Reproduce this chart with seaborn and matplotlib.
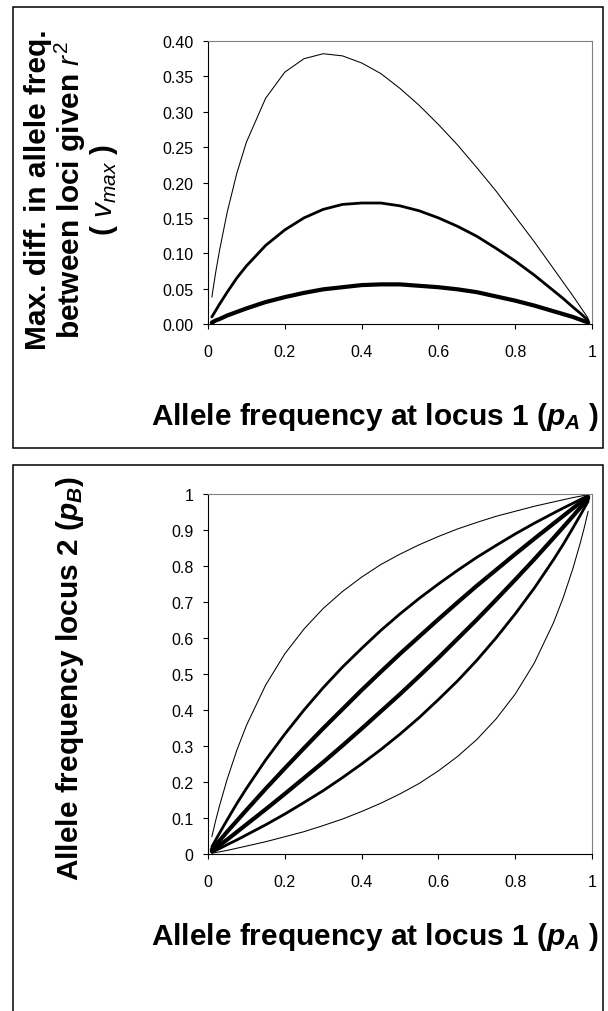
import matplotlib
matplotlib.use("Agg")
import matplotlib.pyplot as plt
import pandas as pd
import seaborn as sns
from matplotlib.patches import Rectangle

sns.set_style("white")
plt.rcParams['font.family'] = ['Liberation Sans', 'DejaVu Sans']
plt.rcParams['mathtext.fontset'] = 'custom'
plt.rcParams['mathtext.rm'] = 'Liberation Sans'
plt.rcParams['mathtext.it'] = 'Liberation Sans:italic'
plt.rcParams['mathtext.bf'] = 'Liberation Sans:italic:bold'
for key in ['text.color', 'axes.labelcolor', 'xtick.color', 'ytick.color']:
    plt.rcParams[key] = 'black'

# allele frequency at locus 1 (pA)
p_a = [0.01, 0.02, 0.03, 0.05, 0.075, 0.1, 0.15, 0.2, 0.25, 0.3, 0.35, 0.4, 0.45, 0.5,
       0.55, 0.6, 0.65, 0.7, 0.75, 0.8, 0.85, 0.9, 0.925, 0.95, 0.97, 0.98, 0.99]

# top panel: max. diff. in allele freq. (v_max) for three r2 values
vmax_r2_02 = [0.038, 0.073, 0.104, 0.158, 0.213, 0.257, 0.319, 0.356, 0.375, 0.382, 0.379, 0.369, 0.354, 0.333,
              0.309, 0.282, 0.253, 0.221, 0.188, 0.152, 0.116, 0.078, 0.059, 0.040, 0.024, 0.016, 0.008]
vmax_r2_05 = [0.010, 0.019, 0.028, 0.045, 0.065, 0.082, 0.111, 0.133, 0.150, 0.162, 0.169, 0.171, 0.171, 0.167,
              0.160, 0.150, 0.138, 0.124, 0.107, 0.089, 0.069, 0.047, 0.036, 0.024, 0.015, 0.010, 0.005]
vmax_r2_08 = [0.002, 0.005, 0.007, 0.012, 0.017, 0.022, 0.031, 0.038, 0.044, 0.049, 0.052, 0.055, 0.056, 0.056,
              0.054, 0.052, 0.049, 0.045, 0.039, 0.033, 0.026, 0.018, 0.014, 0.010, 0.006, 0.004, 0.002]

# bottom panel: allele frequency at locus 2 (pB), upper and lower bounds
pb_up_02 = [0.048, 0.093, 0.134, 0.208, 0.288, 0.357, 0.469, 0.556, 0.625, 0.682, 0.729, 0.769, 0.804, 0.833,
            0.859, 0.882, 0.903, 0.921, 0.938, 0.952, 0.966, 0.978, 0.984, 0.990, 0.994, 0.996, 0.998]
pb_lo_02 = [0.002, 0.004, 0.006, 0.010, 0.016, 0.022, 0.034, 0.048, 0.062, 0.079, 0.097, 0.118, 0.141, 0.167,
            0.196, 0.231, 0.271, 0.318, 0.375, 0.444, 0.531, 0.643, 0.712, 0.792, 0.866, 0.907, 0.952]
pb_up_05 = [0.020, 0.039, 0.058, 0.095, 0.140, 0.182, 0.261, 0.333, 0.400, 0.462, 0.519, 0.571, 0.621, 0.667,
            0.710, 0.750, 0.788, 0.824, 0.857, 0.889, 0.919, 0.947, 0.961, 0.974, 0.985, 0.990, 0.995]
pb_lo_05 = [0.005, 0.010, 0.015, 0.026, 0.039, 0.053, 0.081, 0.111, 0.143, 0.176, 0.212, 0.250, 0.290, 0.333,
            0.379, 0.429, 0.481, 0.538, 0.600, 0.667, 0.739, 0.818, 0.860, 0.905, 0.942, 0.961, 0.980]
pb_up_08 = [0.012, 0.025, 0.037, 0.062, 0.092, 0.122, 0.181, 0.238, 0.294, 0.349, 0.402, 0.455, 0.506, 0.556,
            0.604, 0.652, 0.699, 0.745, 0.789, 0.833, 0.876, 0.918, 0.939, 0.960, 0.976, 0.984, 0.992]
pb_lo_08 = [0.008, 0.016, 0.024, 0.040, 0.061, 0.082, 0.124, 0.167, 0.211, 0.255, 0.301, 0.348, 0.396, 0.444,
            0.494, 0.545, 0.598, 0.651, 0.706, 0.762, 0.819, 0.878, 0.908, 0.938, 0.963, 0.975, 0.988]

x_ticks = [0, 0.2, 0.4, 0.6, 0.8, 1]
x_ticklabels = ['0', '0.2', '0.4', '0.6', '0.8', '1']
top_yticks = [0, 0.05, 0.1, 0.15, 0.2, 0.25, 0.3, 0.35, 0.4]
top_yticklabels = ['0.00', '0.05', '0.10', '0.15', '0.20', '0.25', '0.30', '0.35', '0.40']
bot_yticks = [0, 0.1, 0.2, 0.3, 0.4, 0.5, 0.6, 0.7, 0.8, 0.9, 1]
bot_yticklabels = ['0', '0.1', '0.2', '0.3', '0.4', '0.5', '0.6', '0.7', '0.8', '0.9', '1']

W, H = 608, 1012
fig = plt.figure(figsize=(W / 100, H / 100), dpi=100)

def px_axes(left, top, right, bottom):
    return fig.add_axes([left / W, 1 - bottom / H, (right - left) / W, (bottom - top) / H])

def style_axes(ax):
    for side in ['left', 'bottom']:
        ax.spines[side].set_color('black')
        ax.spines[side].set_linewidth(0.8)
    for side in ['top', 'right']:
        ax.spines[side].set_visible(True)
        ax.spines[side].set_color('#808080')
        ax.spines[side].set_linewidth(0.8)
    ax.tick_params(axis='both', direction='out', length=3.6, width=0.8, color='black',
                   labelcolor='black', labelsize=11.5, left=True, bottom=True)
    ax.tick_params(axis='x', pad=10.5)
    ax.tick_params(axis='y', pad=7)
    ax.set_xlabel('')
    ax.set_ylabel('')

lw = {'0.2': 0.75, '0.5': 2.0, '0.8': 3.0}

# top panel
ax1 = px_axes(208, 42, 592, 325)
top_df = pd.DataFrame({
    'pA': p_a * 3,
    'v': vmax_r2_02 + vmax_r2_05 + vmax_r2_08,
    'r2': ['0.2'] * len(p_a) + ['0.5'] * len(p_a) + ['0.8'] * len(p_a),
})
for r2, grp in top_df.groupby('r2'):
    sns.lineplot(data=grp, x='pA', y='v', ax=ax1, color='black', linewidth=lw[r2],
                 sort=False, estimator=None)
ax1.set_xlim(0, 1)
ax1.set_ylim(0, 0.4)
ax1.set_xticks(x_ticks, x_ticklabels)
ax1.set_yticks(top_yticks, top_yticklabels)
style_axes(ax1)

# bottom panel
ax2 = px_axes(208, 495, 592, 855)
bot_df = pd.DataFrame({
    'pA': p_a * 6,
    'pB': pb_up_02 + pb_lo_02 + pb_up_05 + pb_lo_05 + pb_up_08 + pb_lo_08,
    'curve': sum([[c] * len(p_a) for c in ['0.2u', '0.2l', '0.5u', '0.5l', '0.8u', '0.8l']], []),
})
for curve, grp in bot_df.groupby('curve'):
    sns.lineplot(data=grp, x='pA', y='pB', ax=ax2, color='black', linewidth=lw[curve[:3]],
                 sort=False, estimator=None)
ax2.set_xlim(0, 1)
ax2.set_ylim(0, 1)
ax2.set_xticks(x_ticks, x_ticklabels)
ax2.set_yticks(bot_yticks, bot_yticklabels)
style_axes(ax2)

# panel frames
fig.patches.append(Rectangle((13 / W, 1 - 449 / H), 590 / W, 441 / H, transform=fig.transFigure,
                             fill=False, edgecolor='black', linewidth=1.1))
fig.patches.append(Rectangle((13 / W, -0.02), 590 / W, 1 - 466 / H + 0.02, transform=fig.transFigure,
                             fill=False, edgecolor='black', linewidth=1.1))

# labels
fig.text(72 / W, 1 - 190 / H,
         'Max. diff. in allele freq.\nbetween loci given $r^2$\n( $v_{max}$ )',
         rotation=90, ha='center', va='center', multialignment='center',
         fontsize=21.5, fontweight='bold', linespacing=1.0)
fig.text(375 / W, 1 - 417 / H, r'Allele frequency at locus 1 ($\mathbf{p}_{\mathbf{A}}$ )',
         ha='center', va='center', fontsize=21.5, fontweight='bold')
fig.text(70 / W, 1 - 678 / H, r'Allele frequency locus 2 ($\mathbf{p}_{\mathbf{B}}$)',
         rotation=90, ha='center', va='center', fontsize=21.5, fontweight='bold')
fig.text(375 / W, 1 - 937 / H, r'Allele frequency at locus 1 ($\mathbf{p}_{\mathbf{A}}$ )',
         ha='center', va='center', fontsize=21.5, fontweight='bold')

fig.savefig('out.png', dpi=100)
